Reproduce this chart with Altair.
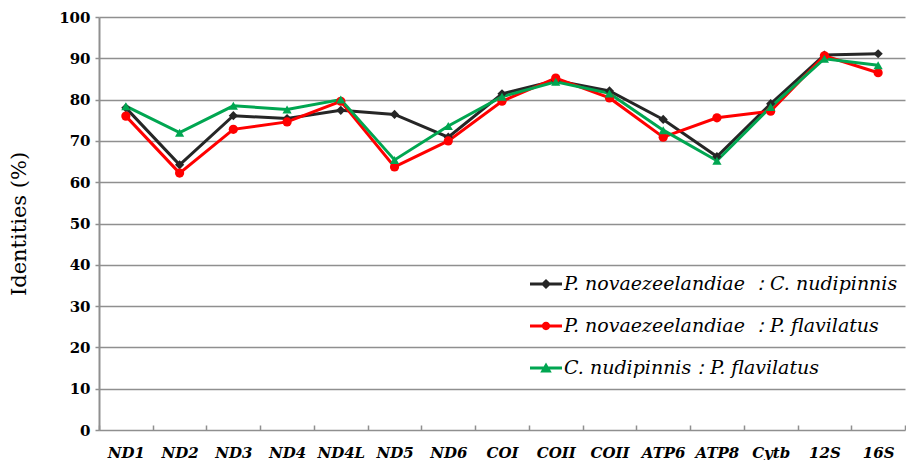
import altair as alt
import pandas as pd

genes = ["ND1", "ND2", "ND3", "ND4", "ND4L", "ND5", "ND6", "COI", "COII", "COII",
         "ATP6", "ATP8", "Cytb", "12S", "16S"]

series_names = [
    "P. novaezeelandiae ：C. nudipinnis",
    "P. novaezeelandiae ：P. flavilatus",
    "C. nudipinnis：P. flavilatus",
]

pn_cn = [78.0, 64.2, 76.1, 75.4, 77.4, 76.4, 70.9, 81.4, 84.6, 82.1, 75.2, 66.2, 79.0, 90.8, 91.1]
pn_pf = [76.0, 62.2, 72.8, 74.6, 79.6, 63.7, 70.0, 79.6, 85.2, 80.4, 70.9, 75.6, 77.2, 90.6, 86.5]
cn_pf = [78.4, 72.0, 78.5, 77.6, 80.0, 65.4, 73.6, 80.7, 84.3, 81.5, 72.6, 65.2, 78.2, 89.9, 88.3]

colors = ["#262626", "#ff0000", "#00a651"]
shapes = ["diamond", "circle", "triangle-up"]

bar = "M-1,-0.09H1V0.09H-1Z"
legend_paths = [
    bar + "M-0.32,0L0,-0.32L0.32,0L0,0.32Z",
    bar + "M-0.26,0A0.26,0.26 0 1,1 0.26,0A0.26,0.26 0 1,1 -0.26,0Z",
    bar + "M-0.36,0.28L0,-0.34L0.36,0.28Z",
]

rows = []
for name, vals in zip(series_names, [pn_cn, pn_pf, cn_pf]):
    for i, v in enumerate(vals):
        rows.append({"idx": i, "series": name, "value": v})
df = pd.DataFrame(rows)

label_expr = "[" + ",".join("'%s'" % g for g in genes) + "][datum.value]"
GRID = "#8f8f8f"
SERIF = "DejaVu Serif"

x_enc = alt.X(
    "idx:O",
    scale=alt.Scale(type="band", paddingInner=0, paddingOuter=0),
    bandPosition=0.5,
    axis=alt.Axis(
        labelExpr=label_expr, labelAngle=0, labelFont=SERIF, labelFontStyle="italic",
        labelFontWeight="bold", labelFontSize=15, labelColor="black",
        domain=False, ticks=True, tickBand="extent", tickSize=5, tickColor=GRID,
        tickWidth=1.5, offset=-5, grid=False, title=None, labelPadding=15,
    ),
)
y_enc = alt.Y(
    "value:Q",
    scale=alt.Scale(domain=[0, 100], nice=False, zero=True),
    axis=alt.Axis(
        values=list(range(0, 101, 10)), labelFont=SERIF, labelFontWeight="bold",
        labelFontSize=15, labelColor="black", title="Identities (%)", titleFont=SERIF,
        titleFontSize=21, titleFontWeight="normal", titleColor="black",
        gridColor=GRID, gridWidth=1.5, domainColor=GRID, domainWidth=2,
        tickColor=GRID, tickSize=4, tickWidth=1.5, labelPadding=5, titlePadding=29,
    ),
)

color_nolegend = alt.Color("series:N", scale=alt.Scale(domain=series_names, range=colors), legend=None)

lines = alt.Chart(df).mark_line(strokeWidth=3).encode(
    x=x_enc, y=y_enc, color=color_nolegend
)

points = alt.Chart(df).mark_point(filled=True, opacity=1, size=85).encode(
    x=x_enc, y=y_enc, color=color_nolegend,
    shape=alt.Shape("series:N", scale=alt.Scale(domain=series_names, range=shapes), legend=None),
)

legend_layer = alt.Chart(df).transform_filter("false").mark_point(filled=True, opacity=1).encode(
    color=alt.Color(
        "series:N", scale=alt.Scale(domain=series_names, range=colors),
        legend=alt.Legend(
            orient="none", legendX=431, legendY=251, title=None, labelFont=SERIF,
            labelFontStyle="italic", labelFontSize=19, labelColor="black",
            symbolSize=1024, symbolStrokeWidth=0, rowPadding=16, labelOffset=2,
            labelLimit=600, padding=0,
        ),
    ),
    shape=alt.Shape("series:N", scale=alt.Scale(domain=series_names, range=legend_paths)),
)

chart = (
    alt.layer(lines, points, legend_layer)
    .resolve_scale(color="independent", shape="independent")
    .properties(width=806, height=413, padding={"left": 0, "top": 2, "right": 0, "bottom": 0})
    .configure_view(stroke=None)
)

chart.save("out.html", embed_options={"renderer": "svg", "actions": False})
